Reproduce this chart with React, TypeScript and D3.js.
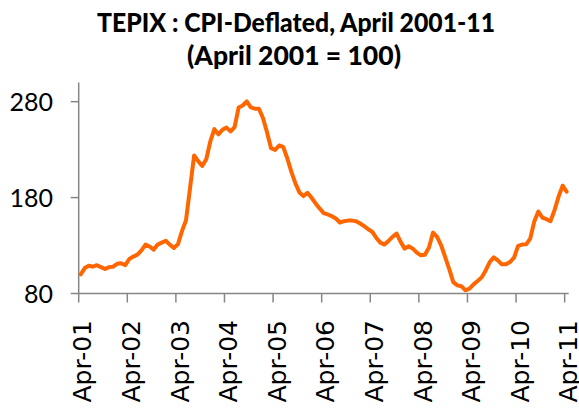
import React from "react";
import * as d3 from "d3";

const title1 = "TEPIX : CPI-Deflated, April 2001-11";
const title2 = "(April 2001 = 100)";

// Monthly values, April 2001 .. April 2011 (121 months)
const values2001 = [100, 106.5, 109, 108, 109.5, 107.5, 105.5, 107.5, 108, 111, 111.5, 109.5];
const values2002 = [116, 118.5, 120.5, 125, 131, 129, 125.7, 131, 133, 135, 131, 127.5];
const values2003 = [131.3, 145, 156.4, 190, 224, 218, 213, 220, 238.5, 251.4, 246, 250.7];
const values2004 = [253, 249, 253.5, 274, 276, 280.3, 274, 272.7, 272.7, 263, 248.2, 231.5];
const values2005 = [229.7, 234.3, 232.9, 221, 207, 195, 185.4, 181.6, 185, 179.8, 173.9, 168.7];
const values2006 = [163.8, 162.4, 160.6, 158.2, 154, 155.4, 156, 156, 155.4, 153, 150.2, 147];
const values2007 = [144.2, 137.9, 133, 131, 134.8, 139, 142.5, 133.8, 126.8, 129.2, 126.8, 122.6];
const values2008 = [119.8, 120.5, 128, 143.5, 139, 130.3, 118, 105.5, 91.8, 88.5, 87.6, 83.3];
const values2009 = [85, 89.5, 93, 96.8, 104, 112.8, 117.7, 114.6, 110.4, 110.4, 112.8, 117.3];
const values2010 = [129.6, 131, 131.3, 137.2, 155, 165.5, 159.2, 157.5, 155.4, 167, 181, 192.4];
const values2011 = [186.1];

const tepix = [
  ...values2001, ...values2002, ...values2003, ...values2004, ...values2005,
  ...values2006, ...values2007, ...values2008, ...values2009, ...values2010, ...values2011,
];

const xTickLabels = ["Apr-01", "Apr-02", "Apr-03", "Apr-04", "Apr-05", "Apr-06", "Apr-07", "Apr-08", "Apr-09", "Apr-10", "Apr-11"];
const yTicks = [80, 180, 280];

export default function App() {
  const W = 579, H = 410;
  const left = 78.7, right = 568.7, top = 82.5, bottom = 293.5;
  const x = d3.scaleLinear().domain([0, tepix.length]).range([left, right]);
  const y = d3.scaleLinear().domain([80, 300]).range([bottom, top]);
  const line = d3.line<number>().x((_, i) => x(i + 0.5)).y((d) => y(d));
  const axisColor = "#868686";

  return (
    <svg width={W} height={H} style={{ position: "absolute", left: 0, top: 0, background: "#fff" }}>
      <text x={296} y={32} textAnchor="middle" fontFamily="Lato, sans-serif" fontWeight="900" fontSize={26} textLength={398} lengthAdjust="spacingAndGlyphs" fill="#000">{title1}</text>
      <text x={294} y={65} textAnchor="middle" fontFamily="Lato, sans-serif" fontWeight="900" fontSize={26} textLength={214} lengthAdjust="spacingAndGlyphs" fill="#000">{title2}</text>

      {/* y axis */}
      <line x1={left} x2={left} y1={top} y2={bottom} stroke={axisColor} strokeWidth={1.5} />
      {yTicks.map((t) => (
        <g key={t}>
          <line x1={left - 8} x2={left} y1={y(t)} y2={y(t)} stroke={axisColor} strokeWidth={1.5} />
          <text x={53} y={y(t)} dy="0.36em" textAnchor="end" fontFamily="Lato, sans-serif" fontSize={25} fill="#000">{t}</text>
        </g>
      ))}

      {/* x axis */}
      <line x1={left} x2={right} y1={bottom} y2={bottom} stroke={axisColor} strokeWidth={1.5} />
      {xTickLabels.map((lab, k) => {
        const tx = x(k * 12);
        return (
          <g key={lab}>
            <line x1={tx} x2={tx} y1={bottom} y2={bottom + 9} stroke={axisColor} strokeWidth={1.5} />
            <text transform={`translate(${tx},320) rotate(-90)`} dy={12.7} textAnchor="end" fontFamily="'DejaVu Sans', sans-serif" fontSize={25} fill="#000">{lab}</text>
          </g>
        );
      })}

      <path d={line(tepix) || ""} fill="none" stroke="#FF6600" strokeWidth={4} strokeLinejoin="round" strokeLinecap="round" />
    </svg>
  );
}
